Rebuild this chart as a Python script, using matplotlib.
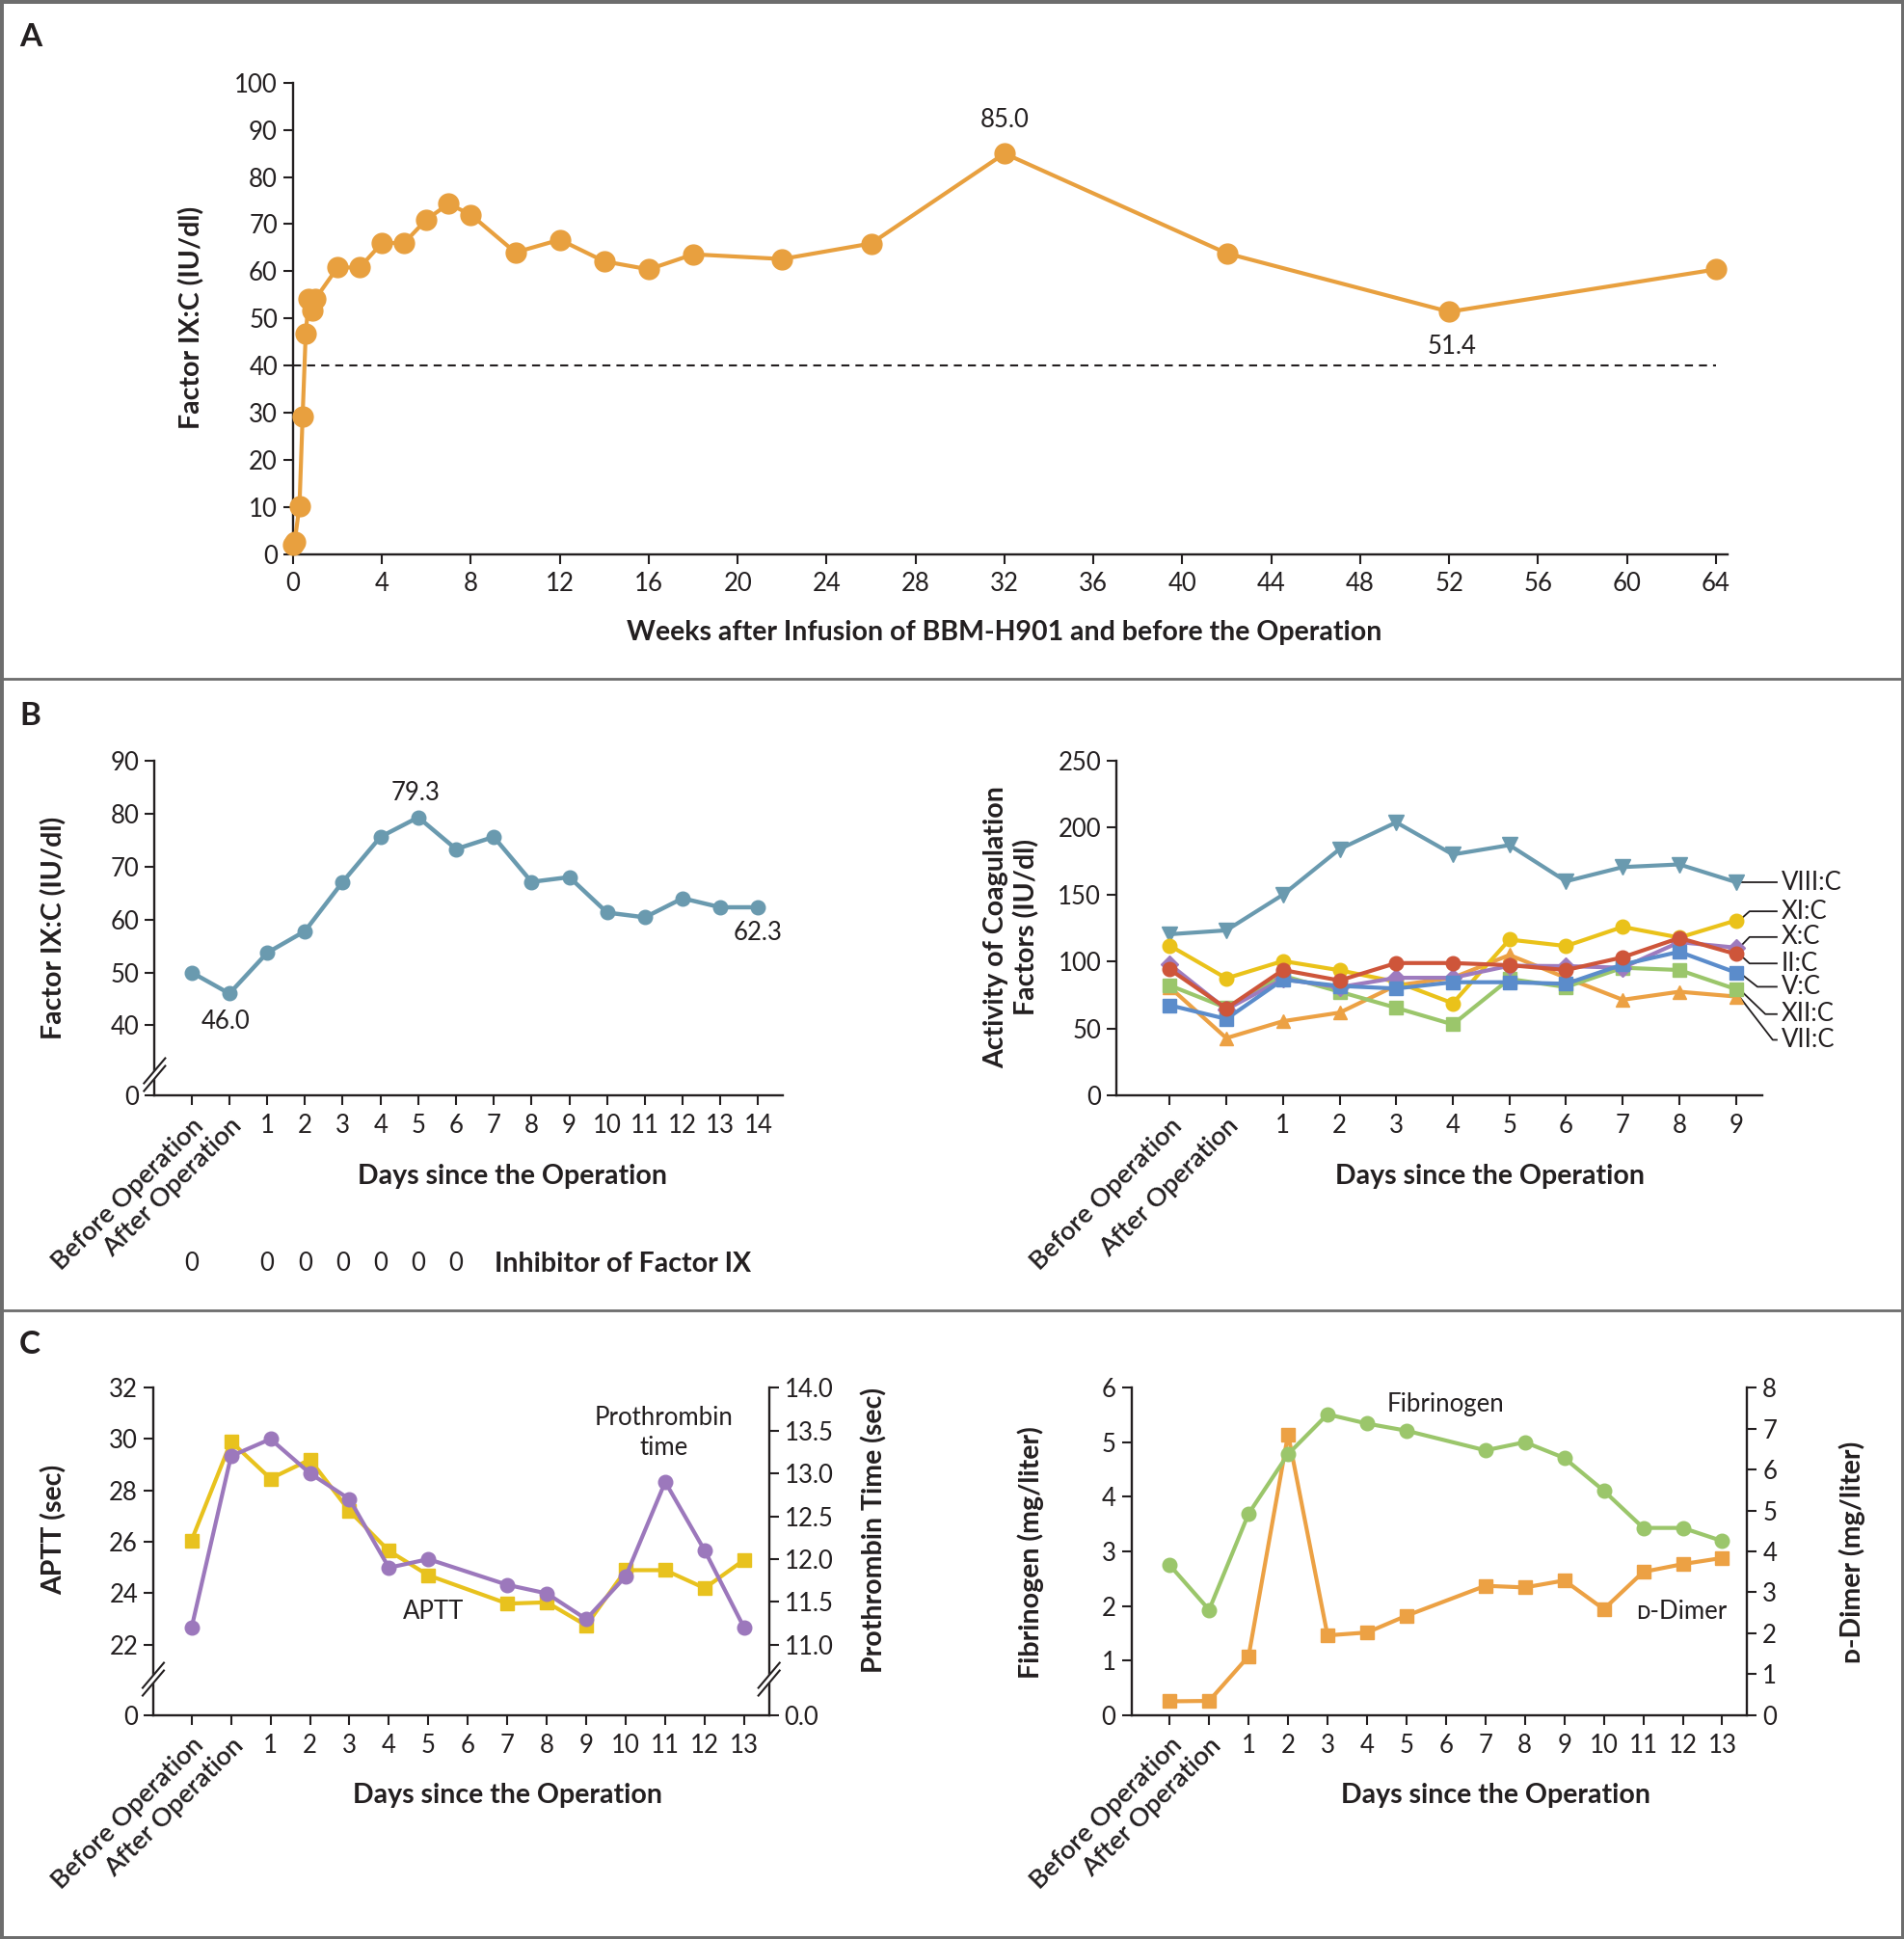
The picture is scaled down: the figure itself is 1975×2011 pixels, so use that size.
import numpy as np
import matplotlib
matplotlib.use('Agg')
import matplotlib.pyplot as plt
from matplotlib.patches import Rectangle, Polygon
from matplotlib.lines import Line2D

plt.rcParams['font.family'] = ['Lato', 'DejaVu Sans']
plt.rcParams['font.size'] = 18.5
ink = '#231F20'
plt.rcParams['text.color'] = ink
plt.rcParams['axes.edgecolor'] = ink
plt.rcParams['xtick.color'] = ink
plt.rcParams['ytick.color'] = ink
plt.rcParams['axes.linewidth'] = 1.7
plt.rcParams['xtick.major.width'] = 1.5
plt.rcParams['ytick.major.width'] = 1.5
plt.rcParams['xtick.major.size'] = 7.5
plt.rcParams['ytick.major.size'] = 7.5
plt.rcParams['xtick.major.pad'] = 6
plt.rcParams['ytick.major.pad'] = 4

# ---------------- data ----------------
# A: factor IX:C after infusion
weeks_a = [0, 0.07, 0.29, 0.43, 0.57, 0.71, 0.86, 1.0, 2, 3, 4, 5, 6, 7, 8,
           10, 12, 14, 16, 18, 22, 26, 32, 42, 52, 64]
factor_a = [2.0, 2.5, 10.2, 29.1, 46.7, 54.1, 51.6, 54.1, 60.8, 60.8, 66.0, 66.0,
            71.0, 74.3, 72.0, 64.0, 66.7, 62.1, 60.4, 63.6, 62.6, 65.9, 85.0, 63.8,
            51.4, 60.4]
threshold_a = 40

# B left: factor IX:C around the operation
days_b1 = ['Before Operation', 'After Operation'] + [str(d) for d in range(1, 15)]
factor_b1 = [50.0, 46.0, 53.7, 57.8, 67.1, 75.6, 79.3, 73.3, 75.6, 67.1, 68.0,
             61.3, 60.4, 64.0, 62.3, 62.3]
inhibitor_days = ['Before Operation', '1', '2', '3', '4', '5', '6']
inhibitor_vals = [0, 0, 0, 0, 0, 0, 0]

# B right: coagulation factors
days_b2 = ['Before Operation', 'After Operation'] + [str(d) for d in range(1, 10)]
viii_c = [120.5, 123.4, 150, 184, 204, 180, 187, 160, 170.6, 172.6, 159.4]
xi_c = [112, 87.6, 100.5, 93.6, 85, 69, 116.5, 111.7, 126, 118, 130.8]
x_c = [98, 64.4, 87, 81, 88, 88, 97, 96.7, 95.5, 114.6, 110.5]
ii_c = [94.3, 65.2, 93.8, 86, 99, 99, 97.4, 93.8, 103.3, 117.7, 105.7]
v_c = [67.5, 57.3, 86.6, 81.9, 80, 84.7, 84.7, 83.5, 97.9, 107.4, 91.9]
xii_c = [82.3, 65.6, 89.5, 77.6, 65.6, 53.2, 87.1, 81.1, 95.5, 93.8, 79.5]
vii_c = [81, 43, 55.6, 62, 82.3, 88, 105, 88, 71.6, 77.6, 74]

# C: coagulation times, fibrinogen and D-dimer (no sample on day 6)
days_c = ['Before Operation', 'After Operation'] + [str(d) for d in range(1, 14)]
nan = np.nan
aptt = [26.06, 29.9, 28.46, 29.2, 27.2, 25.65, 24.7, nan, 23.6, 23.65, 22.75,
        24.9, 24.9, 24.2, 25.3]
pt = [11.2, 13.2, 13.4, 13.0, 12.7, 11.9, 12.0, nan, 11.7, 11.6, 11.3, 11.8,
      12.9, 12.1, 11.2]
fibrinogen = [2.75, 1.93, 3.69, 4.78, 5.51, 5.34, 5.21, nan, 4.85, 5.0, 4.71,
              4.11, 3.43, 3.43, 3.19]
d_dimer = [0.34, 0.35, 1.44, 6.86, 1.95, 2.02, 2.43, nan, 3.16, 3.12, 3.29,
           2.59, 3.5, 3.69, 3.84]

# ---------------- figure ----------------
fig = plt.figure(figsize=(19.75, 20.11), dpi=100)
W, H = fig.get_size_inches() * fig.dpi
LAB = 20.5  # bold axis labels


def clean(ax, keep_right=False):
    ax.spines['top'].set_visible(False)
    if not keep_right:
        ax.spines['right'].set_visible(False)


def cat_xticks(ax, labels):
    ax.set_xticks(range(len(labels)))
    ax.set_xticklabels(labels)
    for t in ax.get_xticklabels()[:2]:
        t.set_rotation(45)
        t.set_ha('right')
        t.set_va('top')
        t.set_rotation_mode('anchor')
        t.set_fontweight('semibold')
        t.set_fontsize(19.5)


def break_mark(ax, xf, yf):
    bb = ax.get_position()
    sx = 1 / (bb.width * W)
    sy = 1 / (bb.height * H)
    a = [(xf - 11 * sx, yf - 17 * sy), (xf + 11 * sx, yf + 9 * sy)]
    b = [(xf - 11 * sx, yf - 9 * sy), (xf + 11 * sx, yf + 17 * sy)]
    ax.add_patch(Polygon([a[0], a[1], b[1], b[0]], closed=True, color='white',
                         transform=ax.transAxes, clip_on=False, zorder=6))
    for seg in (a, b):
        ax.add_line(Line2D([seg[0][0], seg[1][0]], [seg[0][1], seg[1][1]],
                           transform=ax.transAxes, color=ink, lw=1.5,
                           clip_on=False, zorder=7))


def plot_gaps(ax, y, **kw):
    y = np.asarray(y, dtype=float)
    x = np.arange(len(y))
    m = ~np.isnan(y)
    return ax.plot(x[m], y[m], **kw)


def ylab(ax, x, y, s, **kw):
    ax.text(x, y, s, rotation=90, ha='center', va='center', transform=ax.transAxes,
            fontweight='bold', fontsize=LAB, **kw)


def xlab(ax, x, y, s):
    ax.text(x, y, s, ha='center', va='top', transform=ax.transAxes,
            fontweight='bold', fontsize=LAB)


# ---- Panel A ----
axA = fig.add_axes([0.1539, 0.7143, 0.7532, 0.2430])
clean(axA)
orange_a = '#E8A03F'
axA.plot(weeks_a, factor_a, color=orange_a, lw=3, marker='o', ms=15,
         clip_on=False, zorder=3)
axA.plot([0, 64], [threshold_a, threshold_a], color=ink, lw=1.5, ls=(0, (4, 3)),
         zorder=2)
axA.set_xlim(0, 64.5)
axA.set_ylim(0, 100)
axA.set_xticks(np.arange(0, 65, 4))
axA.set_yticks(np.arange(0, 101, 10))
axA.annotate('85.0', (32, 85.0), xytext=(0, 25), textcoords='offset points',
             ha='center', va='center')
axA.annotate('51.4', (52, 51.4), xytext=(2, -26), textcoords='offset points',
             ha='center', va='center')
ylab(axA, -0.0707, 0.501, 'Factor IX:C (IU/dl)')
xlab(axA, 0.496, -0.140, 'Weeks after Infusion of BBM-H901 and before the Operation')

# ---- Panel B left ----
axB1 = fig.add_axes([0.0812, 0.4349, 0.3299, 0.1728])
clean(axB1)
teal = '#6A9AAF'
axB1.plot(range(len(factor_b1)), factor_b1, color=teal, lw=3.2, marker='o',
          ms=10.5, zorder=3)
b1_low = 26.7
axB1.set_ylim(b1_low, 90)
axB1.set_yticks([b1_low, 40, 50, 60, 70, 80, 90])
axB1.set_yticklabels(['0', '40', '50', '60', '70', '80', '90'])
axB1.set_xlim(-0.98, 15.65)
cat_xticks(axB1, days_b1)
axB1.annotate('46.0', (1, factor_b1[1]), xytext=(-3, -21), textcoords='offset points',
              ha='center', va='center')
axB1.annotate('79.3', (6, factor_b1[6]), xytext=(-2, 18), textcoords='offset points',
              ha='center', va='center')
axB1.annotate('62.3', (15, factor_b1[15]), xytext=(0, -19), textcoords='offset points',
              ha='center', va='center')
break_mark(axB1, 0, 0.063)
ylab(axB1, -0.161, 0.502, 'Factor IX:C (IU/dl)')
xlab(axB1, 0.569, -0.203, 'Days since the Operation')
tr = axB1.get_xaxis_transform()
for d, v in zip(inhibitor_days, inhibitor_vals):
    axB1.text(days_b1.index(d), -0.502, str(v), transform=tr, ha='center', va='center')
axB1.text(8.02, -0.502, 'Inhibitor of Factor IX', transform=tr, ha='left',
          va='center', fontweight='bold', fontsize=LAB)

# ---- Panel B right ----
axB2 = fig.add_axes([0.5864, 0.4349, 0.3390, 0.1728])
clean(axB2)
series_b2 = [
    ('VIII:C', viii_c, '#6A9AAF', 'v', 11, 159.0, 10.06),
    ('VII:C', vii_c, '#ECA144', '^', 10, 41.7, 10.65),
    ('XII:C', xii_c, '#9BC66B', 's', 9.5, 60.9, 10.52),
    ('XI:C', xi_c, '#EAC21A', 'o', 10.5, 137.6, 10.24),
    ('X:C', x_c, '#9E7BBE', 'D', 9, 118.4, 10.24),
    ('V:C', v_c, '#5B8CCB', 's', 9.5, 81.3, 10.38),
    ('II:C', ii_c, '#CE553A', 'o', 10.5, 98.7, 10.24),
]
xb2 = np.arange(len(days_b2))
for name, vals, col, mk, ms, ly, bend in series_b2:
    axB2.plot(xb2, vals, color=col, lw=3, marker=mk, ms=ms, zorder=3)
    x0 = xb2[-1] + 0.06
    axB2.plot([x0, bend, 10.72], [vals[-1], ly, ly], color=ink, lw=1.3,
              clip_on=False, zorder=2)
    axB2.text(10.8, ly, name, ha='left', va='center')
axB2.set_ylim(0, 250)
axB2.set_yticks(np.arange(0, 251, 50))
axB2.set_xlim(-0.94, 10.46)
cat_xticks(axB2, days_b2)
ylab(axB2, -0.163, 0.502, 'Activity of Coagulation\nFactors (IU/dl)', linespacing=1.25)
xlab(axB2, 0.579, -0.203, 'Days since the Operation')

# ---- Panel C left ----
axC1 = fig.add_axes([0.0805, 0.1154, 0.3234, 0.1690])
clean(axC1)
axC1t = axC1.twinx()
for s in ('top', 'left', 'bottom'):
    axC1t.spines[s].set_visible(False)
plot_gaps(axC1, aptt, color='#E8C21E', lw=3, marker='s', ms=10, zorder=3)
plot_gaps(axC1t, pt, color='#9C78BC', lw=3, marker='o', ms=10.5, zorder=3)
c1_low = 19.26
axC1.set_ylim(c1_low, 32)
axC1.set_yticks([c1_low, 22, 24, 26, 28, 30, 32])
axC1.set_yticklabels(['0', '22', '24', '26', '28', '30', '32'])
pt_low = 10.18
axC1t.set_ylim(pt_low, 14.0)
axC1t.set_yticks([pt_low, 11.0, 11.5, 12.0, 12.5, 13.0, 13.5, 14.0])
axC1t.set_yticklabels(['0.0', '11.0', '11.5', '12.0', '12.5', '13.0', '13.5', '14.0'])
axC1.set_xlim(-0.97, 14.63)
cat_xticks(axC1, days_c)
axC1.text(11.96, 30.25, 'Prothrombin\ntime', ha='center', va='center', linespacing=1.3)
axC1.text(6.14, 23.3, 'APTT', ha='center', va='center')
break_mark(axC1, 0, 0.11)
break_mark(axC1t, 1, 0.11)
ylab(axC1, -0.161, 0.566, 'APTT (sec)')
ylab(axC1, 1.171, 0.566, 'Prothrombin Time (sec)')
xlab(axC1, 0.576, -0.207, 'Days since the Operation')

# ---- Panel C right ----
axC2 = fig.add_axes([0.5942, 0.1154, 0.3234, 0.1690])
clean(axC2)
axC2t = axC2.twinx()
for s in ('top', 'left', 'bottom'):
    axC2t.spines[s].set_visible(False)
axC2.set_zorder(axC2t.get_zorder() + 1)
axC2.patch.set_visible(False)
plot_gaps(axC2t, d_dimer, color='#ECA144', lw=3, marker='s', ms=10, zorder=3)
plot_gaps(axC2, fibrinogen, color='#9BC66B', lw=3, marker='o', ms=10.5, zorder=3)
axC2.set_ylim(0, 6)
axC2.set_yticks(range(0, 7))
axC2t.set_ylim(0, 8)
axC2t.set_yticks(range(0, 9))
axC2.set_xlim(-0.97, 14.63)
cat_xticks(axC2, days_c)
axC2.text(7.0, 5.7, 'Fibrinogen', ha='center', va='center')
axC2.text(12.97, 1.9, '\u1d05-Dimer', ha='center', va='center')
ylab(axC2, -0.163, 0.498, 'Fibrinogen (mg/liter)')
ylab(axC2, 1.171, 0.498, '\u1d05-Dimer (mg/liter)')
xlab(axC2, 0.592, -0.207, 'Days since the Operation')

# ---- frame, separators, panel letters ----
frame = '#6D6D6D'
fig.add_artist(Rectangle((0, 0), 1, 1, transform=fig.transFigure, fill=False,
                         edgecolor=frame, lw=5))
for yy in (0.6499, 0.3240):
    fig.add_artist(Line2D([0, 1], [yy, yy], transform=fig.transFigure, color=frame, lw=2))
for lab, yy in (('A', 0.988), ('B', 0.638), ('C', 0.314)):
    fig.text(0.0101, yy, lab, ha='left', va='top', fontweight='bold', fontsize=24)

fig.savefig('out.png', dpi=100)
